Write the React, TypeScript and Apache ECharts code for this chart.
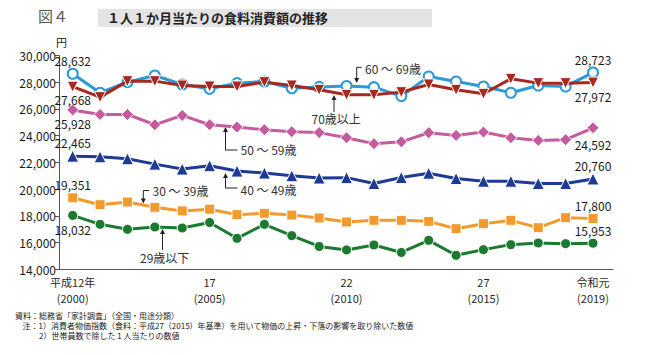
import React, { useEffect, useRef } from 'react';
import * as echarts from 'echarts';

const years = [2000, 2001, 2002, 2003, 2004, 2005, 2006, 2007, 2008, 2009, 2010, 2011, 2012, 2013, 2014, 2015, 2016, 2017, 2018, 2019];
const age60s = [28632, 27212, 28007, 28505, 27832, 27508, 27932, 28057, 27550, 27650, 27720, 27630, 26960, 28430, 28057, 27683, 27212, 27758, 27683, 28723];
const age70s = [27668, 26884, 28082, 28082, 27758, 27683, 27683, 28007, 27758, 27434, 27060, 27060, 27259, 27832, 27434, 27135, 28256, 27932, 27932, 27972];
const age50s = [25928, 25589, 25589, 24817, 25515, 24817, 24642, 24443, 24300, 24230, 23848, 23400, 23540, 24220, 24020, 24268, 23848, 23645, 23700, 24592];
const age40s = [22465, 22415, 22270, 21870, 21500, 21750, 21350, 21200, 21000, 20830, 20860, 20420, 20870, 21190, 20790, 20590, 20590, 20420, 20420, 20760];
const age30s = [19351, 18835, 19035, 18640, 18370, 18500, 18090, 18190, 18060, 17840, 17540, 17664, 17664, 17589, 17040, 17414, 17664, 17115, 17863, 17800];
const age20s = [18032, 17365, 16991, 17165, 17090, 17500, 16320, 17365, 16520, 15710, 15450, 15820, 15260, 16168, 15047, 15471, 15844, 15969, 15919, 15953];

const xTickYears = [2000, 2005, 2010, 2015, 2019];
const xTickEraLabels = ['平成12年', '17', '22', '27', '令和元'];
const xTickYearLabels = ['(2000)', '(2005)', '(2010)', '(2015)', '(2019)'];

const FONT = '"Noto Sans CJK JP", "Noto Sans", sans-serif';

type EndLabel = { pos: 'top' | 'bottom'; dist: number };

function buildData(values: number[], first: EndLabel, last: EndLabel) {
  return values.map((v, i) => {
    const item: any = { value: [years[i], v] };
    const cfg = i === 0 ? first : i === values.length - 1 ? last : null;
    if (cfg) {
      item.label = {
        show: true,
        position: cfg.pos,
        distance: cfg.dist,
        formatter: (p: any) => Number(p.value[1]).toLocaleString('en-US'),
        color: '#1a1a1a',
        fontSize: 12,
        fontFamily: FONT,
      };
    }
    return item;
  });
}

function arrowUp(x: number, y: number) {
  return { type: 'polygon', shape: { points: [[x, y], [x - 2.5, y + 5], [x + 2.5, y + 5]] }, style: { fill: '#222' }, silent: true };
}
function arrowDown(x: number, y: number) {
  return { type: 'polygon', shape: { points: [[x, y], [x - 2.5, y - 5], [x + 2.5, y - 5]] }, style: { fill: '#222' }, silent: true };
}
function seg(x1: number, y1: number, x2: number, y2: number) {
  return { type: 'line', shape: { x1, y1, x2, y2 }, style: { stroke: '#222', lineWidth: 1 }, silent: true };
}
function txt(text: string, x: number, y: number, size: number, opts: any = {}) {
  return {
    type: 'text',
    x,
    y,
    silent: true,
    style: {
      text,
      font: `${opts.weight || 'normal'} ${size}px ${FONT}`,
      fill: opts.fill || '#222',
      textAlign: opts.align || 'left',
      align: opts.align || 'left',
      textVerticalAlign: 'middle',
      verticalAlign: 'middle',
    },
  };
}

function xAxisFor(labels: string[], offset: number, showLine: boolean) {
  return {
    type: 'value',
    position: 'bottom',
    offset,
    min: 1999.5,
    max: 2019.73,
    splitLine: { show: false },
    axisTick: { show: false },
    axisLine: { show: showLine, lineStyle: { color: '#555', width: 1 } },
    axisLabel: {
      customValues: xTickYears,
      formatter: (v: number) => {
        const idx = xTickYears.indexOf(Math.round(v));
        return idx >= 0 ? labels[idx] : '';
      },
      color: '#2a2a2a',
      fontSize: 11,
      fontFamily: FONT,
      margin: 7,
    },
  };
}

export default function App() {
  const ref = useRef<HTMLDivElement>(null);
  useEffect(() => {
    if (!ref.current) return;
    const chart = echarts.init(ref.current, null, { renderer: 'svg' });
    const lineSeries = (name: string, values: number[], color: string, symbol: string, size: number, first: EndLabel, last: EndLabel, extra: any = {}) => ({
      name,
      type: 'line',
      xAxisIndex: 0,
      data: buildData(values, first, last),
      symbol,
      symbolSize: size,
      lineStyle: { color, width: 3 },
      itemStyle: { color, borderColor: '#fff', borderWidth: 1 },
      z: 3,
      ...extra,
    });
    chart.setOption({
      animation: false,
      grid: { left: 59, right: 37, top: 55.5, bottom: 85.7, containLabel: false },
      xAxis: [xAxisFor(xTickEraLabels, 0, true), xAxisFor(xTickYearLabels, 16, false)],
      yAxis: {
        type: 'value',
        min: 14000,
        max: 30000,
        interval: 2000,
        splitLine: { show: false },
        axisLine: { show: true, lineStyle: { color: '#555', width: 1 } },
        axisTick: { show: true, length: 4, lineStyle: { color: '#555' } },
        axisLabel: {
          formatter: (v: number) => v.toLocaleString('en-US'),
          color: '#1a1a1a',
          fontSize: 12,
          fontFamily: FONT,
          margin: 3,
        },
      },
      series: [
        lineSeries('60～69歳', age60s, '#2a9ad8', 'circle', 10, { pos: 'top', dist: 1 }, { pos: 'top', dist: 1.5 }, {
          itemStyle: { color: '#fff', borderColor: '#2a9ad8', borderWidth: 2 },
        }),
        lineSeries('70歳以上', age70s, '#a8281e', 'triangle', 11, { pos: 'bottom', dist: 1 }, { pos: 'bottom', dist: 2 }, { symbolRotate: 180, z: 4 }),
        lineSeries('50～59歳', age50s, '#c65a9e', 'diamond', 12, { pos: 'bottom', dist: 1 }, { pos: 'bottom', dist: 4 }),
        lineSeries('40～49歳', age40s, '#1d3a96', 'triangle', 12, { pos: 'top', dist: 1 }, { pos: 'top', dist: 0.5 }),
        lineSeries('30～39歳', age30s, '#f39a2c', 'rect', 10, { pos: 'top', dist: 2 }, { pos: 'top', dist: 1.5 }),
        lineSeries('29歳以下', age20s, '#1a7a30', 'circle', 10, { pos: 'bottom', dist: 3 }, { pos: 'top', dist: 1 }),
      ],
      graphic: [
        txt('図４', 38, 15.5, 15, { fill: '#555' }),
        { type: 'rect', shape: { x: 98, y: 9, width: 334, height: 18 }, style: { fill: '#e4e4e4' }, silent: true },
        txt('１人１か月当たりの食料消費額の推移', 107, 17.5, 13, { weight: 'bold', fill: '#222' }),
        txt('円', 56, 42, 11, { fill: '#222' }),
        // 60～69歳
        seg(356.7, 67.3, 356.7, 80), seg(356.7, 67.3, 361.7, 67.3), arrowDown(356.7, 83),
        txt('60 ～ 69歳', 365, 68.3, 12, { fill: '#333' }),
        // 70歳以上
        seg(334, 98, 334, 112), arrowUp(334, 95),
        txt('70歳以上', 311.5, 118.5, 12, { fill: '#333' }),
        // 50～59歳
        seg(225.5, 130, 225.5, 150), seg(225.5, 150, 237.5, 150), arrowUp(225.5, 127),
        txt('50 ～ 59歳', 240.5, 149, 12, { fill: '#333' }),
        // 40～49歳
        seg(225.5, 176, 225.5, 188), seg(225.5, 188, 237.5, 188), arrowUp(225.5, 173),
        txt('40 ～ 49歳', 240.5, 189.5, 12, { fill: '#333' }),
        // 30～39歳
        seg(143.3, 190.5, 143.3, 200), seg(143.3, 190.5, 149, 190.5), arrowDown(143.3, 203.5),
        txt('30 ～ 39歳', 152.5, 190.5, 12, { fill: '#333' }),
        // 29歳以下
        seg(162.5, 232, 162.5, 250), arrowUp(162.5, 229),
        txt('29歳以下', 140, 257.5, 12, { fill: '#333' }),
        // footnotes
        txt('資料：総務省「家計調査」（全国・用途分類）', 15, 315, 8, { fill: '#222' }),
        txt('注：1）消費者物価指数（食料：平成27（2015）年基準）を用いて物価の上昇・下落の影響を取り除いた数値', 22.5, 325.5, 8, { fill: '#222' }),
        txt('2）世帯員数で除した１人当たりの数値', 39, 335.5, 8, { fill: '#222' }),
      ],
    });
    return () => chart.dispose();
  }, []);
  return <div ref={ref} style={{ position: 'fixed', left: 0, top: 0, width: 650, height: 355, background: '#fff' }} />;
}
